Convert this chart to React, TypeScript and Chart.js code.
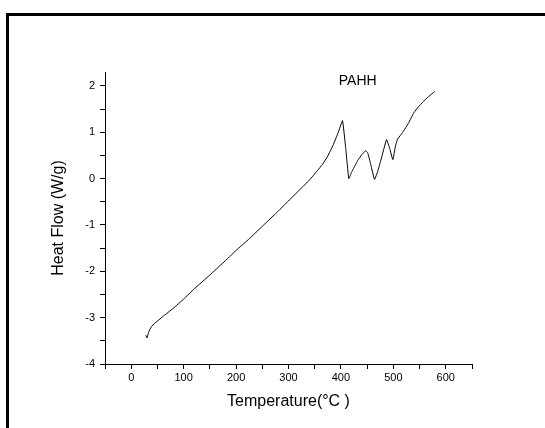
import React, { useEffect, useRef } from "react";
import { Chart, registerables } from "chart.js";

Chart.register(...registerables);

const temps = [28, 30, 33, 38, 45, 60, 80, 100, 120, 150, 175, 200, 225, 250, 275, 300, 325, 340, 355, 365, 375, 385, 395, 403, 409, 415, 420, 432, 440, 447, 451, 457, 464, 470, 476, 487, 493, 499, 504, 508, 518, 529, 539, 548, 556, 567, 579];
const heatFlow = [-3.38, -3.44, -3.32, -3.2, -3.12, -2.98, -2.8, -2.6, -2.38, -2.08, -1.82, -1.55, -1.3, -1.03, -0.76, -0.48, -0.2, -0.03, 0.17, 0.31, 0.49, 0.72, 1.0, 1.25, 0.67, 0.0, 0.13, 0.39, 0.52, 0.6, 0.56, 0.3, -0.02, 0.15, 0.39, 0.84, 0.65, 0.41, 0.7, 0.85, 1.0, 1.2, 1.42, 1.55, 1.65, 1.77, 1.88];

const xTitle = "Temperature(°C )";
const yTitle = "Heat Flow (W/g)";
const seriesLabel = "PAHH";
const labelPos = { x: 432, y: 2.1 };

const FONT = "Arial, 'Liberation Sans', Helvetica, sans-serif";

export default function App() {
  const ref = useRef<HTMLCanvasElement | null>(null);

  useEffect(() => {
    if (!ref.current) return;
    const framePlugin = {
      id: "frameAndLabel",
      beforeDraw(chart: any) {
        const ctx = chart.ctx;
        ctx.save();
        ctx.fillStyle = "#ffffff";
        ctx.fillRect(0, 0, chart.width, chart.height);
        ctx.fillStyle = "#000000";
        ctx.fillRect(6, 13, chart.width - 6, 3);
        ctx.fillRect(6, 13, 3, chart.height - 13);
        ctx.restore();
      },
      afterDatasetsDraw(chart: any) {
        const ctx = chart.ctx;
        const xs = chart.scales.x;
        const ys = chart.scales.y;
        ctx.save();
        ctx.fillStyle = "#000";
        ctx.font = `14px ${FONT}`;
        ctx.textAlign = "center";
        ctx.textBaseline = "middle";
        ctx.fillText(seriesLabel, xs.getPixelForValue(labelPos.x), ys.getPixelForValue(labelPos.y));
        ctx.restore();
      },
    };

    const chart = new Chart(ref.current, {
      type: "line",
      data: {
        datasets: [
          {
            label: seriesLabel,
            data: temps.map((t, i) => ({ x: t, y: heatFlow[i] })),
            borderColor: "#000",
            borderWidth: 1,
            pointRadius: 0,
            tension: 0.1,
            fill: false,
          },
        ],
      },
      options: {
        animation: false,
        responsive: false,
        devicePixelRatio: 1,
        layout: { padding: { left: 0, right: 73, top: 72, bottom: 0 } },
        plugins: {
          legend: { display: false },
          title: { display: false },
          tooltip: { enabled: false },
        },
        scales: {
          x: {
            type: "linear",
            min: -50,
            max: 650,
            afterFit: (s: any) => {
              s.height = 64;
            },
            ticks: {
              stepSize: 50,
              autoSkip: false,
              maxRotation: 0,
              padding: 2,
              color: "#000",
              font: { size: 11, family: FONT },
              callback: (v: any) => (Number(v) % 100 === 0 ? String(v) : ""),
            },
            grid: { drawOnChartArea: false, drawTicks: true, tickLength: 5, color: "#000" },
            border: { display: true, color: "#000", width: 1 },
            title: {
              display: true,
              text: xTitle,
              color: "#000",
              font: { size: 16, family: FONT },
              padding: { top: 0, bottom: 17 },
            },
          },
          y: {
            type: "linear",
            min: -4,
            max: 2.3,
            afterFit: (s: any) => {
              s.width = 105;
            },
            afterBuildTicks: (s: any) => {
              s.ticks = s.ticks.filter((t: any) => Math.abs(t.value * 2 - Math.round(t.value * 2)) < 1e-6);
            },
            ticks: {
              stepSize: 0.5,
              autoSkip: false,
              padding: 5,
              color: "#000",
              font: { size: 11, family: FONT },
              callback: (v: any) => (Number.isInteger(Number(v)) ? String(v) : ""),
            },
            grid: { drawOnChartArea: false, drawTicks: true, tickLength: 5, color: "#000" },
            border: { display: true, color: "#000", width: 1 },
            title: {
              display: true,
              text: yTitle,
              color: "#000",
              font: { size: 16, family: FONT },
              padding: { top: 49, bottom: 0 },
            },
          },
        },
      },
      plugins: [framePlugin],
    });
    return () => chart.destroy();
  }, []);

  return (
    <div style={{ position: "fixed", left: 0, top: 0, width: 545, height: 428, background: "#fff" }}>
      <canvas ref={ref} width={545} height={428} style={{ display: "block" }} />
    </div>
  );
}
